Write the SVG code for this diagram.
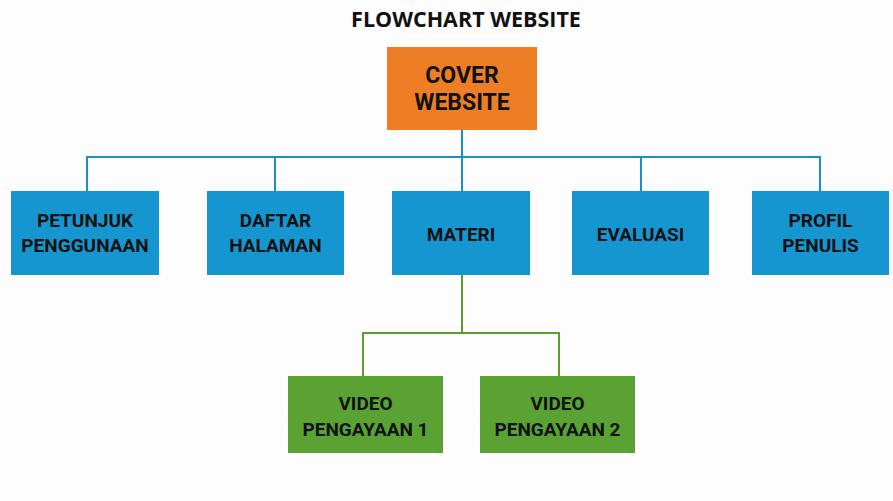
<svg xmlns="http://www.w3.org/2000/svg" width="893" height="501" viewBox="0 0 893 501">
<style>
.t{font-family:Roboto,"Liberation Sans",sans-serif;font-weight:bold;fill:#111;text-anchor:middle}
.n{font-size:19px}
.c{font-size:23px}
.blue{fill:#1596D0}
.green{fill:#5AA332}
.orange{fill:#EE7E26}
.lb{stroke:#1A8FCC;stroke-width:2;fill:none}
.lg{stroke:#5A9E2E;stroke-width:2;fill:none}
</style>
<rect width="893" height="501" fill="#fdfdfd"/>
<text x="466" y="27" class="t" style="font-family:'Open Sans','Noto Sans',sans-serif;font-size:21.5px" fill="#1a1a1a">FLOWCHART WEBSITE</text>
<g id="connectors">
<path class="lb" d="M462 130V157M87 191V157H820V191M275 157V191M462 157V191M641 157V191"/>
<path class="lg" d="M462 275V333M363 376V333H559V376"/>
</g>
<g id="cover"><rect class="orange" x="387" y="47" width="150" height="83"/><text class="t c" x="462" y="83">COVER</text><text class="t c" x="462" y="110">WEBSITE</text></g>
<g id="petunjuk"><rect class="blue" x="11" y="191" width="148" height="84"/><text class="t n" x="85" y="227">PETUNJUK</text><text class="t n" x="85" y="252">PENGGUNAAN</text></g>
<g id="daftar"><rect class="blue" x="207" y="191" width="137" height="84"/><text class="t n" x="275.5" y="227">DAFTAR</text><text class="t n" x="275.5" y="252">HALAMAN</text></g>
<g id="materi"><rect class="blue" x="392" y="191" width="138" height="84"/><text class="t n" x="461" y="241">MATERI</text></g>
<g id="evaluasi"><rect class="blue" x="572" y="191" width="137" height="84"/><text class="t n" x="640.5" y="241">EVALUASI</text></g>
<g id="profil"><rect class="blue" x="752" y="191" width="137" height="84"/><text class="t n" x="820.5" y="227">PROFIL</text><text class="t n" x="820.5" y="252">PENULIS</text></g>
<g id="video1"><rect class="green" x="288" y="376" width="155" height="77"/><text class="t n" x="365.5" y="410">VIDEO</text><text class="t n" x="365.5" y="436">PENGAYAAN 1</text></g>
<g id="video2"><rect class="green" x="480" y="376" width="155" height="77"/><text class="t n" x="557.5" y="410">VIDEO</text><text class="t n" x="557.5" y="436">PENGAYAAN 2</text></g>
</svg>
